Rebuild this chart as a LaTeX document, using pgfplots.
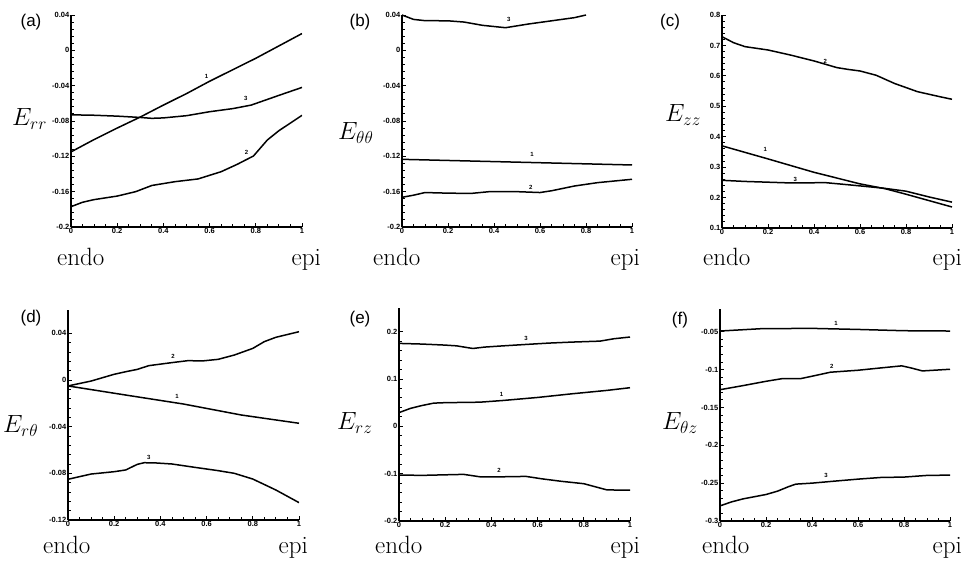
\documentclass[border=0pt]{standalone}
\usepackage{pgfplots}
\pgfplotsset{compat=1.18}
\usepackage{fontspec}
\newfontfamily\ticksf{Liberation Sans}
\pgfplotsset{
  panel/.style={
    scale only axis, anchor=south west,
    axis lines=left, axis line style={-, line width=1.2pt},
    tick align=inside, major tick length=4pt, minor tick length=2.5pt,
    xtick style={black, line width=0.9pt}, ytick style={black, line width=0.9pt},
    xmin=0, xmax=1,
    xtick={0,0.2,0.4,0.6,0.8,1}, xticklabels={0,0.2,0.4,0.6,0.8,1},
    minor x tick num=3, minor y tick num=4,
    scaled y ticks=false,
    tick label style={font=\ticksf\bfseries\fontsize{7.5}{8}\selectfont, inner sep=1.5pt},
    yticklabel style={/pgf/number format/fixed, /pgf/number format/precision=2,
      /pgf/number format/assume math mode=true},
    every axis plot post/.append style={black, line width=1.5pt, mark=none},
  },
}
\tikzset{cl/.style={font=\ticksf\bfseries\fontsize{6}{6}\selectfont, inner sep=0pt}}
\newcommand{\pl}[1]{\fontsize{17}{19}\selectfont\ticksf #1}
\newcommand{\ee}[1]{\fontsize{25}{27}\selectfont #1}
\begin{document}
\begin{tikzpicture}
\useasboundingbox (0,0) rectangle (971pt,561pt);
% (a)
\begin{axis}[panel, at={(71pt,334pt)}, width=231pt, height=212pt,
  ymin=-0.2, ymax=0.04, ytick={-0.2,-0.16,-0.12,-0.08,-0.04,0,0.04}]
\addplot coordinates {(0,-0.115)(0.1,-0.101)(0.2,-0.088)(0.3,-0.0755)(0.4,-0.062)(0.5,-0.049)(0.6,-0.035)(0.7,-0.022)(0.8,-0.009)(0.9,0.005)(1,0.019)};
\addplot coordinates {(0,-0.073)(0.1,-0.0735)(0.2,-0.0745)(0.3,-0.076)(0.35,-0.077)(0.4,-0.0765)(0.5,-0.074)(0.6,-0.0695)(0.7,-0.066)(0.78,-0.062)(0.9,-0.051)(1,-0.042)};
\addplot coordinates {(0,-0.177)(0.05,-0.172)(0.1,-0.169)(0.2,-0.165)(0.28,-0.160)(0.35,-0.153)(0.45,-0.1487)(0.55,-0.1456)(0.65,-0.1374)(0.72,-0.129)(0.79,-0.1196)(0.85,-0.1015)(0.9,-0.091)(1,-0.0736)};
\node[cl] at (axis cs:0.587,-0.029) {1};
\node[cl] at (axis cs:0.757,-0.054) {3};
\node[cl] at (axis cs:0.76,-0.115) {2};
\end{axis}
% (b)
\begin{axis}[panel, at={(402pt,334pt)}, width=230pt, height=212pt,
  ymin=-0.2, ymax=0.04, ytick={-0.2,-0.16,-0.12,-0.08,-0.04,0,0.04}]
\addplot coordinates {(0,-0.1234)(0.5,-0.1266)(1,-0.1298)};
\addplot coordinates {(0,-0.1664)(0.05,-0.164)(0.1,-0.161)(0.2,-0.1617)(0.3,-0.162)(0.38,-0.160)(0.5,-0.160)(0.6,-0.161)(0.65,-0.159)(0.75,-0.1536)(0.85,-0.1498)(1,-0.146)};
\addplot coordinates {(0,0.040)(0.05,0.035)(0.1,0.0336)(0.2,0.0334)(0.27,0.032)(0.35,0.0283)(0.45,0.0256)(0.55,0.0298)(0.65,0.0334)(0.75,0.037)(0.8,0.040)};
\node[cl] at (axis cs:0.464,0.035) {3};
\node[cl] at (axis cs:0.565,-0.118) {1};
\node[cl] at (axis cs:0.56,-0.155) {2};
\end{axis}
% (c)
\begin{axis}[panel, at={(722pt,333pt)}, width=230pt, height=213pt,
  ymin=0.1, ymax=0.8, ytick={0.1,0.2,0.3,0.4,0.5,0.6,0.7,0.8}]
\addplot coordinates {(0,0.37)(0.2,0.327)(0.4,0.283)(0.6,0.245)(0.71,0.229)(0.8,0.211)(0.9,0.19)(1,0.169)};
\addplot coordinates {(0,0.7287)(0.05,0.709)(0.1,0.696)(0.2,0.685)(0.3,0.668)(0.4,0.649)(0.5,0.627)(0.55,0.621)(0.6,0.616)(0.67,0.602)(0.75,0.575)(0.85,0.548)(0.95,0.531)(1,0.523)};
\addplot coordinates {(0,0.2567)(0.1,0.253)(0.3,0.248)(0.45,0.249)(0.55,0.242)(0.7,0.231)(0.8,0.221)(0.9,0.202)(1,0.185)};
\node[cl] at (axis cs:0.449,0.646) {2};
\node[cl] at (axis cs:0.188,0.358) {1};
\node[cl] at (axis cs:0.319,0.259) {3};
\end{axis}
% (d)
\begin{axis}[panel, at={(68pt,41pt)}, width=231pt, height=210pt,
  ymin=-0.12, ymax=0.06, ytick={-0.12,-0.08,-0.04,0,0.04}]
\addplot coordinates {(0,-0.0051)(0.25,-0.0129)(0.5,-0.0206)(0.75,-0.030)(1,-0.0371)};
\addplot coordinates {(0,-0.0051)(0.1,-0.0009)(0.2,0.0049)(0.25,0.0071)(0.3,0.0091)(0.35,0.0123)(0.45,0.0149)(0.52,0.0166)(0.58,0.0163)(0.65,0.0177)(0.72,0.0214)(0.8,0.0271)(0.85,0.0329)(0.9,0.0366)(1,0.0414)};
\addplot coordinates {(0,-0.0851)(0.1,-0.0806)(0.2,-0.0786)(0.25,-0.0771)(0.3,-0.0723)(0.33,-0.0709)(0.38,-0.0711)(0.45,-0.072)(0.55,-0.0749)(0.65,-0.0777)(0.72,-0.08)(0.8,-0.0849)(0.9,-0.0943)(1,-0.1051)};
\node[cl] at (axis cs:0.455,0.0206) {2};
\node[cl] at (axis cs:0.472,-0.0137) {1};
\node[cl] at (axis cs:0.35,-0.0666) {3};
\end{axis}
% (e)
\begin{axis}[panel, at={(399pt,40pt)}, width=231pt, height=213pt,
  ymin=-0.2, ymax=0.25, ytick={-0.2,-0.1,0,0.1,0.2}]
\addplot coordinates {(0,0.029)(0.05,0.038)(0.1,0.044)(0.15,0.049)(0.2,0.050)(0.35,0.051)(0.45,0.0546)(0.6,0.061)(0.75,0.0688)(0.9,0.0759)(1,0.0816)};
\addplot coordinates {(0,-0.1029)(0.1,-0.1036)(0.28,-0.1015)(0.35,-0.1066)(0.45,-0.1066)(0.55,-0.1058)(0.62,-0.111)(0.7,-0.116)(0.8,-0.1212)(0.9,-0.1343)(1,-0.135)};
\addplot coordinates {(0,0.1752)(0.1,0.1738)(0.2,0.1716)(0.25,0.170)(0.3,0.166)(0.32,0.1645)(0.37,0.1674)(0.45,0.170)(0.55,0.173)(0.65,0.1759)(0.75,0.178)(0.87,0.180)(0.93,0.185)(1,0.1887)};
\node[cl] at (axis cs:0.55,0.186) {3};
\node[cl] at (axis cs:0.444,0.068) {1};
\node[cl] at (axis cs:0.433,-0.093) {2};
\end{axis}
% (f)
\begin{axis}[panel, at={(720pt,40pt)}, width=230pt, height=212pt,
  ymin=-0.3, ymax=-0.02, ytick={-0.3,-0.25,-0.2,-0.15,-0.1,-0.05}]
\addplot coordinates {(0,-0.0491)(0.18,-0.046)(0.4,-0.0456)(0.6,-0.047)(0.8,-0.0487)(1,-0.0491)};
\addplot coordinates {(0,-0.1266)(0.1,-0.1212)(0.2,-0.1155)(0.27,-0.112)(0.35,-0.112)(0.4,-0.1088)(0.48,-0.1035)(0.6,-0.1009)(0.7,-0.0978)(0.79,-0.0951)(0.83,-0.0978)(0.88,-0.1018)(1,-0.0996)};
\addplot coordinates {(0,-0.280)(0.05,-0.2748)(0.1,-0.2708)(0.2,-0.265)(0.25,-0.2606)(0.3,-0.2544)(0.33,-0.2513)(0.4,-0.250)(0.5,-0.2473)(0.6,-0.2447)(0.7,-0.2425)(0.8,-0.242)(0.9,-0.2398)(1,-0.2394)};
\node[cl] at (axis cs:0.504,-0.039) {1};
\node[cl] at (axis cs:0.486,-0.0956) {2};
\node[cl] at (axis cs:0.461,-0.2403) {3};
\end{axis}
% panel letters
\node at (31pt,539pt) {\pl{(a)}};
\node at (360pt,539pt) {\pl{(b)}};
\node at (670pt,539pt) {\pl{(c)}};
\node at (31pt,243pt) {\pl{(d)}};
\node at (360pt,242pt) {\pl{(e)}};
\node at (680pt,241pt) {\pl{(f)}};
% E labels
\node[anchor=base west, inner sep=0pt] at (12pt,435pt) {\ee{$E_{rr}$}};
\node[anchor=base west, inner sep=0pt] at (338pt,421pt) {\ee{$E_{\theta\theta}$}};
\node[anchor=base west, inner sep=0pt] at (665pt,439pt) {\ee{$E_{zz}$}};
\node[anchor=base west, inner sep=0pt] at (3pt,128pt) {\ee{$E_{r\theta}$}};
\node[anchor=base west, inner sep=0pt] at (337pt,131pt) {\ee{$E_{rz}$}};
\node[anchor=base west, inner sep=0pt] at (662pt,131pt) {\ee{$E_{\theta z}$}};
% endo / epi
\node[anchor=base west, inner sep=0pt] at (57pt,295pt) {\ee{endo}};
\node[anchor=base east, inner sep=0pt] at (321pt,295pt) {\ee{epi}};
\node[anchor=base west, inner sep=0pt] at (373pt,295pt) {\ee{endo}};
\node[anchor=base east, inner sep=0pt] at (640pt,295pt) {\ee{epi}};
\node[anchor=base west, inner sep=0pt] at (703pt,295pt) {\ee{endo}};
\node[anchor=base east, inner sep=0pt] at (962pt,295pt) {\ee{epi}};
\node[anchor=base west, inner sep=0pt] at (43pt,7pt) {\ee{endo}};
\node[anchor=base east, inner sep=0pt] at (308pt,7pt) {\ee{epi}};
\node[anchor=base west, inner sep=0pt] at (375pt,7pt) {\ee{endo}};
\node[anchor=base east, inner sep=0pt] at (640pt,7pt) {\ee{epi}};
\node[anchor=base west, inner sep=0pt] at (702pt,7pt) {\ee{endo}};
\node[anchor=base east, inner sep=0pt] at (962pt,7pt) {\ee{epi}};
\end{tikzpicture}
\end{document}
